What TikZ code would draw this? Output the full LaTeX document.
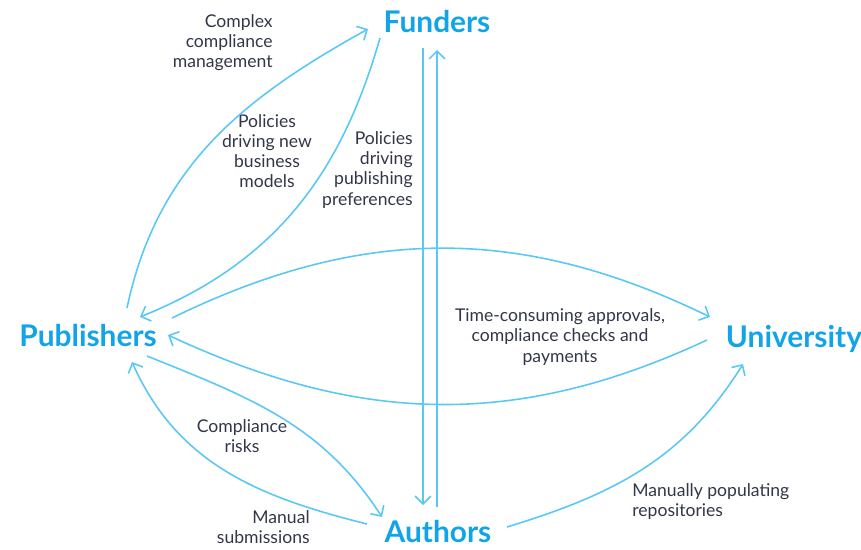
\documentclass[tikz,border=0pt]{standalone}
\usepackage{fontspec}
\setmainfont{Lato}
\usetikzlibrary{arrows.meta}
\definecolor{headblue}{RGB}{18,164,232}
\definecolor{lineblue}{RGB}{90,200,245}
\definecolor{textgray}{RGB}{50,54,72}

\begin{document}
\begin{tikzpicture}[x=0.02cm,y=0.02cm]
\tikzstyle{party}=[text=headblue,font=\fontsize{17}{20}\selectfont\bfseries,inner sep=0pt]
\tikzstyle{note}=[text=textgray,font=\fontsize{10}{11.4}\selectfont,inner sep=0pt]
\tikzstyle{flow}=[draw=lineblue,line width=0.9pt,-{Straight Barb[length=4.5pt,width=9pt]}]

\useasboundingbox (0,0) rectangle (861,549);

\node[party] (fund) at (437,527) {Funders};
\node[party] (pub) at (88,213) {Publishers};
\node[party] (uni) at (794,210) {University};
\node[party] (auth) at (438,17) {Authors};

% labels
\node[note,anchor=east,align=right] (complex) at (273,506) {Complex\\compliance\\management};
\node[note,align=center] (models) at (267,398) {Policies\\driving new\\business\\models};
\node[note,anchor=east,align=right] (prefs) at (413,379) {Policies\\driving\\publishing\\preferences};
\node[note,align=center] (approvals) at (560,212) {Time-consuming approvals,\\compliance checks and\\payments};
\node[note,align=center] (risks) at (242,113) {Compliance\\risks};
\node[note,anchor=east,align=right] (submit) at (310,22) {Manual\\submissions};
\node[note,anchor=west,align=left] (repos) at (632,47) {Manually populating\\repositories};

\draw[flow] ([shift={(39,28)}]pub.center) to[out=78,in=209] ([shift={(-69,-7)}]fund.center);
\draw[flow] ([shift={(-57,-16)}]fund.center) to[out=254,in=22] ([shift={(52,19)}]pub.center);
\draw[flow] ([shift={(84,18)}]pub.center) to[out=26,in=154] ([shift={(-84,22)}]uni.center);
\draw[flow] ([shift={(-87,-1)}]uni.center) to[out=205,in=335] ([shift={(80,1)}]pub.center);
\draw[flow] ([shift={(-14,-26)}]fund.center) -- ([shift={(-15,27)}]auth.center);
\draw[flow] ([shift={(-1,25)}]auth.center) -- ([shift={(0,-28)}]fund.center);
\draw[flow] ([shift={(59,-20)}]pub.center) to[out=-22,in=123] ([shift={(-56,15)}]auth.center);
\draw[flow] ([shift={(-71,8)}]auth.center) to[out=166,in=294] ([shift={(44,-26)}]pub.center);
\draw[flow] ([shift={(69,5)}]auth.center) to[out=17,in=238] ([shift={(-51,-25)}]uni.center);
\end{tikzpicture}
\end{document}
